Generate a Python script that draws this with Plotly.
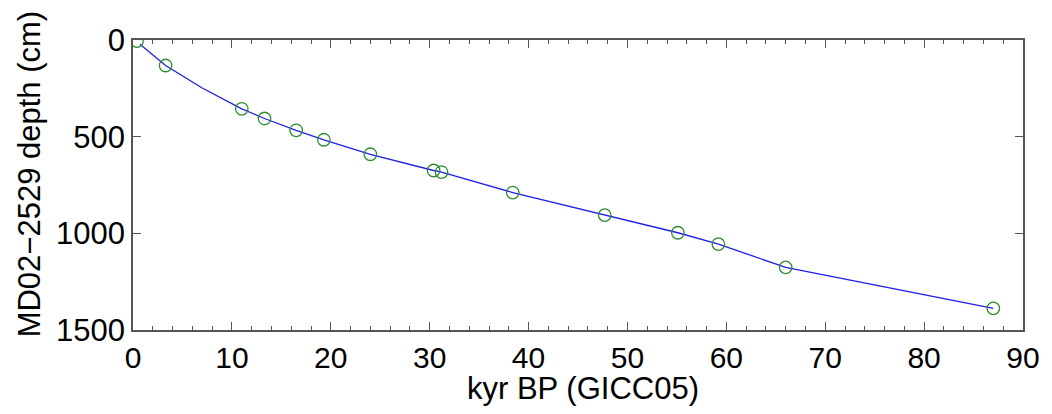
import plotly.graph_objects as go

# tie points (age kyr BP, depth cm)
tie_age = [0.4, 3.3, 11.0, 13.3, 16.5, 19.3, 24.0, 30.4, 31.2, 38.4, 47.7, 55.1, 59.2, 66.0, 87.0]
tie_depth = [6, 132, 356, 406, 467, 516, 591, 675, 683, 789, 906, 997, 1056, 1176, 1388]

# age model line
line_age = [0.7, 3.3, 7.0, 11.0, 13.3, 16.5, 19.3, 24.0, 30.4, 31.2, 38.4, 47.7, 55.1, 59.2, 66.0, 87.0]
line_depth = [22, 132, 248, 356, 406, 467, 516, 591, 675, 683, 789, 906, 997, 1056, 1176, 1388]

x_ticks = [0, 10, 20, 30, 40, 50, 60, 70, 80, 90]
y_ticks = [0, 500, 1000, 1500]

x_title = "kyr BP (GICC05)"
y_title = "MD02\u22122529 depth (cm)"

fig = go.Figure()
fig.add_trace(go.Scatter(x=line_age, y=line_depth, mode="lines",
                         line=dict(color="#1f1fe6", width=1.3), showlegend=False))
fig.add_trace(go.Scatter(x=tie_age, y=tie_depth, mode="markers",
                         marker=dict(symbol="circle-open", size=12.5, color="#2e8b2e",
                                     line=dict(width=1.3, color="#2e8b2e")),
                         showlegend=False))

font_family = "Liberation Sans, Arial, Helvetica, sans-serif"
axis_color = "#555555"

fig.update_layout(
    width=1052, height=414,
    margin=dict(l=133, r=25, t=40, b=84),
    paper_bgcolor="white", plot_bgcolor="white",
    font=dict(family=font_family, color="black"),
    annotations=[
        dict(text=x_title, xref="paper", yref="paper", x=0.5056, y=-0.2,
             xanchor="center", yanchor="middle", showarrow=False,
             font=dict(size=31, family=font_family, color="black")),
        dict(text=y_title, xref="paper", yref="paper", x=-0.1169, y=0.54,
             xanchor="center", yanchor="middle", showarrow=False, textangle=-90,
             font=dict(size=31, family=font_family, color="black")),
    ],
)
fig.update_xaxes(
    range=[0, 90], tickvals=x_ticks, ticktext=[str(v) for v in x_ticks],
    ticks="inside", ticklen=8, tickwidth=1, tickcolor=axis_color,
    showline=True, linecolor=axis_color, linewidth=1.5, mirror="ticks",
    showgrid=False, zeroline=False,
    tickfont=dict(size=30, family=font_family),
    minor=dict(dtick=2, ticks="inside", ticklen=4, tickcolor=axis_color, showgrid=False),
)
fig.update_yaxes(
    range=[1500, 0], tickvals=y_ticks, ticktext=[str(v) for v in y_ticks],
    ticks="inside", ticklen=8, tickwidth=1, tickcolor=axis_color,
    showline=True, linecolor=axis_color, linewidth=1.5, mirror="ticks",
    showgrid=False, zeroline=False,
    tickfont=dict(size=31, family=font_family),
)

fig.write_html("out.html")
